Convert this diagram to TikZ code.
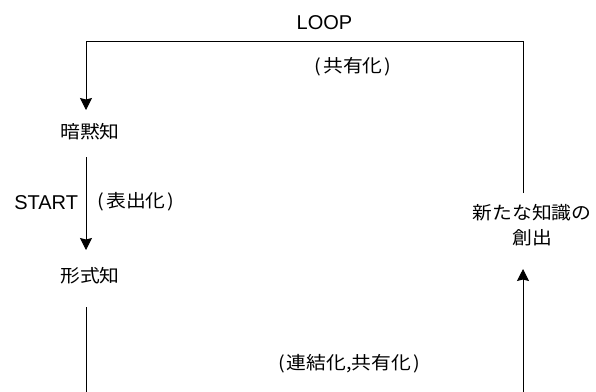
\documentclass[tikz,border=0pt]{standalone}
\usepackage{fontspec}
\setmainfont{Liberation Sans}
\newfontfamily\jpfont[FakeStretch=1.1]{Noto Sans CJK JP}
\usetikzlibrary{arrows.meta,calc}
\newcommand{\lp}{(\kern2pt}
\newcommand{\rp}{\kern2pt)}
\tikzset{
  jptext/.style={inner sep=0pt, outer sep=0pt, font=\jpfont\fontsize{18}{25}\selectfont},
  latin/.style={inner sep=0pt, outer sep=0pt, font=\fontsize{20}{24}\selectfont},
  conn/.style={line width=1pt, draw=black},
  arr/.style={conn, -{Stealth[length=12pt,width=12pt,inset=1.5pt]}}
}
\begin{document}
\begin{tikzpicture}[x=1pt,y=-1pt]
\useasboundingbox (0,0) rectangle (596,391);
% nodes
\node[latin] (loop) at (324.5,23) {LOOP};
\node[jptext] (share) at (353,67) {\lp 共有化\rp};
\node[jptext] (tacit) at (90,132) {暗黙知};
\node[latin, anchor=east] (start) at (78,202.5) {START};
\node[jptext] (expr) at (136,202) {\lp 表出化\rp};
\node[jptext] (explicit) at (90,276) {形式知};
\node[jptext, align=center] (new) at (532,225.5) {新たな知識の\\創出};
\node[jptext] (comb) at (349,364) {\lp 連結化,共有化\rp};
% coordinates
\coordinate (tl) at (86,41);
\coordinate (bl) at (86,395);
\coordinate (br) at (523,395);
% connectors
\draw[arr] ($(new.center)+(-9,-32.5)$) |- (tl) -- ($(tacit.center)+(-4,-22)$);
\draw[arr] ($(tacit.center)+(-4,25)$) -- ($(explicit.center)+(-4,-26)$);
\draw[conn] ($(explicit.center)+(-4,31)$) -- (bl);
\draw[arr] (br) -- ($(new.center)+(-9,43.5)$);
\end{tikzpicture}
\end{document}
